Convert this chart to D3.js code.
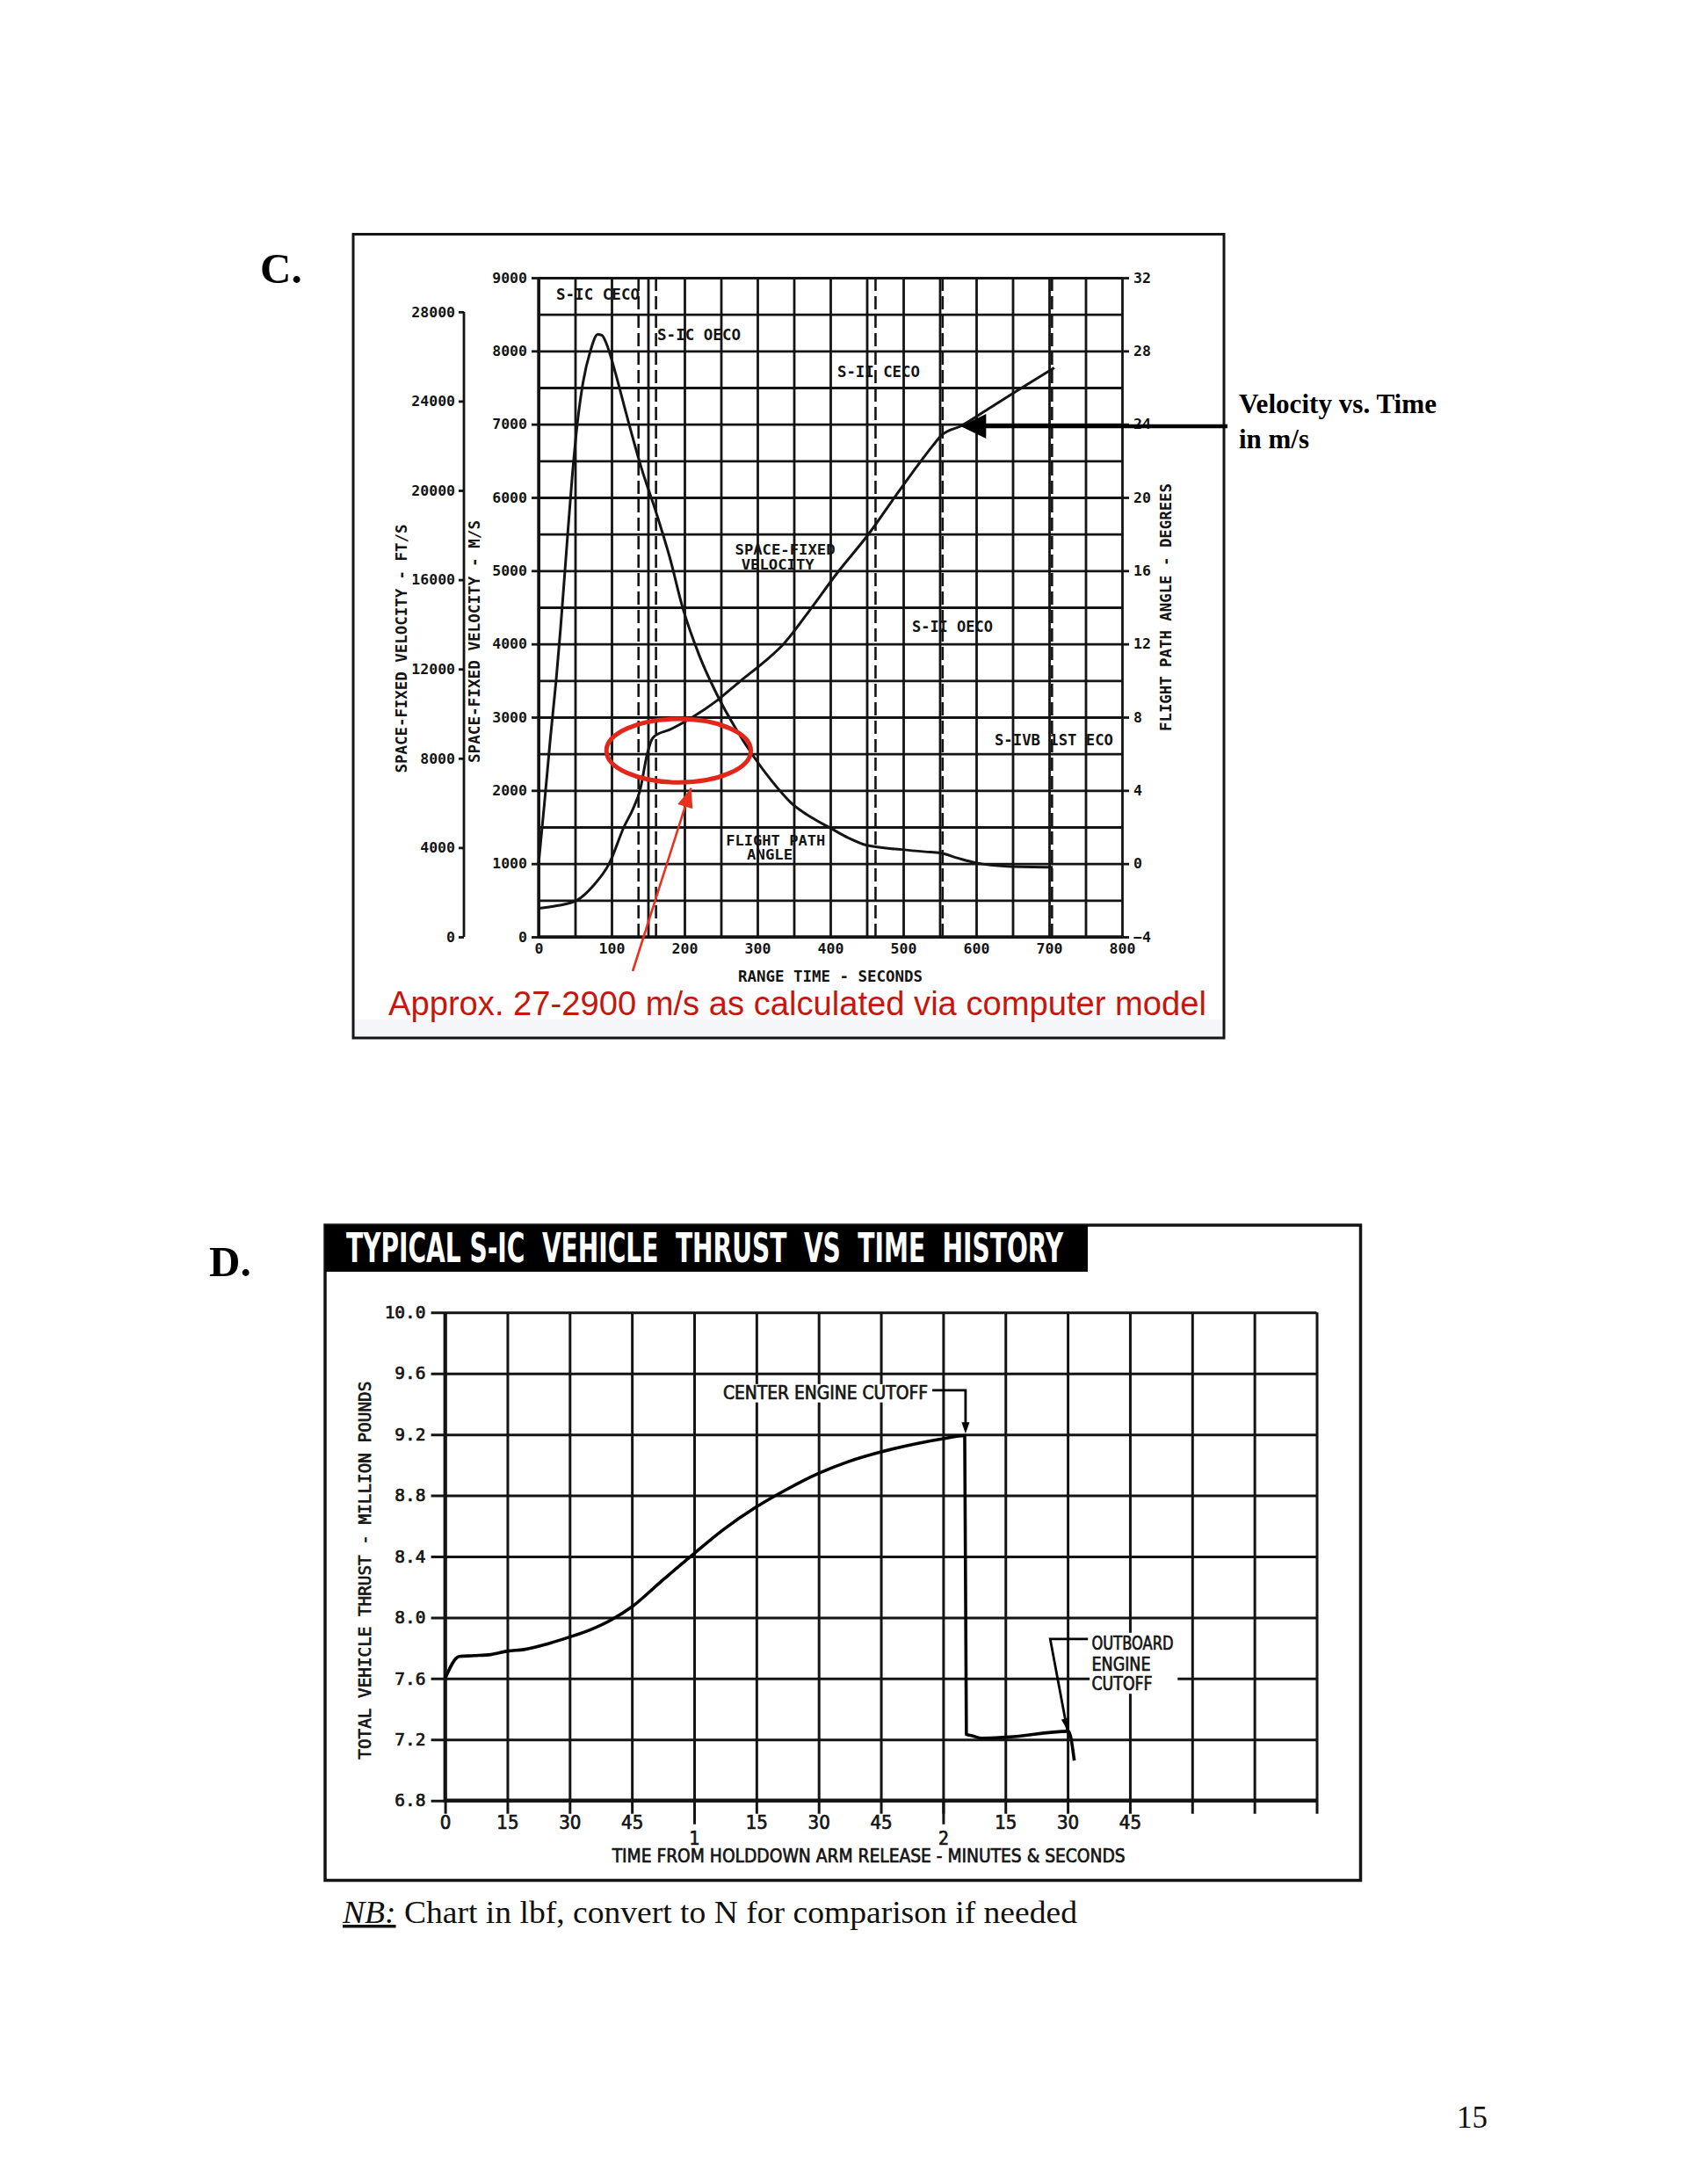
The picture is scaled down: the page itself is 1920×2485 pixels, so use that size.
<!DOCTYPE html>
<html><head><meta charset="utf-8">
<script src="https://cdn.jsdelivr.net/npm/d3@7"></script>
<style>body{margin:0;background:#fff}</style>
</head><body>
<script>
// ---------------- DATA ----------------
// Chart C : Saturn V ascent (range time, s)
const velocityT  = [0,25,52.6,75,96.8,117,130,139,149,155,159,180,211,245,277.5,310,336,374,408,454,488,524.5,540,552.6,579,620,663,707];
const velocityMs = [390,425,500,700,1000,1500,1760,2000,2500,2690,2740,2830,3000,3230,3500,3760,4000,4490,4950,5520,6000,6500,6700,6850,6975,7230,7500,7770];
const fpaT   = [0,8,16,24,30,38,46,53,61,71,81,87,93,105,120,141,161,180,197,220,245,270,294,320,346,375,402,425,450,498,530,551,575,599,643,705];
const fpaDeg = [0,3.3,6.8,10.0,12.8,17.0,21.1,24.0,26.3,28.0,28.9,28.85,28.4,26.85,24.6,21.6,19.2,16.7,14.05,11.4,9.2,7.4,5.9,4.5,3.33,2.5,1.9,1.4,1.0,0.77,0.65,0.58,0.3,0.05,-0.15,-0.2];
const eventTimes = [137,161,462,554,704];
const eventNames = ["S-IC CECO","S-IC OECO","S-II CECO","S-II OECO","S-IVB 1ST ECO"];
const cTimeTicks = [0,100,200,300,400,500,600,700,800];
const cMsTicks   = [0,1000,2000,3000,4000,5000,6000,7000,8000,9000];
const cFtTicks   = [0,4000,8000,12000,16000,20000,24000,28000];
const cDegTicks  = [-4,0,4,8,12,16,20,24,28,32];
// highlighted region (red ellipse) in data units: time range, velocity range
const ellipseT = [93,291];
const ellipseV = [2110,2975];

// Chart D : S-IC thrust history (s, million lbf)
const thrustT = [0,3.4,7,11,15,19,25,30,35,40,45,52,60,67,75,82,90,97,105,114.5,120,125.2,125.6,127,129.3,135,150.2,151.6];
const thrustM = [7.6,7.745,7.75,7.757,7.78,7.79,7.83,7.872,7.92,7.984,8.07,8.235,8.42,8.575,8.725,8.835,8.945,9.02,9.085,9.145,9.172,9.192,7.234,7.225,7.209,7.215,7.254,7.062];
const dTimeTicks  = [0,15,30,45,60,75,90,105,120,135,150,165,180,195,210];
const dTimeLabels = ["0","15","30","45","","15","30","45","","15","30","45","","",""];
const dMinuteTicks  = [60,120];
const dMinuteLabels = ["1","2"];
const dThrustTicks  = [6.8,7.2,7.6,8.0,8.4,8.8,9.2,9.6,10.0];

// ---------------- DRAWING ----------------
const mono = "'DejaVu Sans Mono', monospace";
const cond = "'Liberation Sans Narrow','DejaVu Sans Condensed','DejaVu Sans',sans-serif";
const serif = "'Liberation Serif','Times New Roman',serif";
const sans = "'Liberation Sans', Arial, sans-serif";
const INK = "#141414";

const svg = d3.select("body").append("svg").attr("width",1920).attr("height",2485).style("display","block");
svg.append("rect").attr("width",1920).attr("height",2485).attr("fill","#fff");

function fit(sel,w){ return sel.attr("textLength",w).attr("lengthAdjust","spacingAndGlyphs"); }
function arrowHead(g,tip,from,len,half,fill){
  const dx=tip[0]-from[0], dy=tip[1]-from[1], L=Math.hypot(dx,dy), ux=dx/L, uy=dy/L;
  const bx=tip[0]-ux*len, by=tip[1]-uy*len;
  g.append("path").attr("d",`M${tip[0]},${tip[1]}L${bx-uy*half},${by+ux*half}L${bx+uy*half},${by-ux*half}Z`).attr("fill",fill);
}

// ===== Chart C =====
const xC = d3.scaleLinear().domain([0,800]).range([613,1277]);
const yC = d3.scaleLinear().domain([0,9000]).range([1066,316]);
const yFt = d3.scaleLinear().domain([0,9000/0.3048]).range([1066,316]);
const yDeg = d3.scaleLinear().domain([-4,32]).range([1066,316]);

const gC = svg.append("g");
gC.append("rect").attr("x",402).attr("y",1160).attr("width",991).attr("height",21).attr("fill","#f4f6f9");
gC.append("rect").attr("x",402).attr("y",266.5).attr("width",991).attr("height",914.5).attr("fill","none").attr("stroke",INK).attr("stroke-width",3);

// grid
const gridT = d3.range(0,801,50), gridV = d3.range(0,9001,500);
gC.append("g").attr("transform",`translate(0,${yC(9000)})`)
  .call(d3.axisBottom(xC).tickValues(gridT).tickSize(yC(0)-yC(9000)).tickFormat(""))
  .call(g=>g.select(".domain").remove())
  .selectAll("line").attr("stroke",INK).attr("stroke-width",2.8);
gC.append("g").attr("transform",`translate(${xC(0)},0)`)
  .call(d3.axisLeft(yC).tickValues(gridV).tickSize(-(xC(800)-xC(0))).tickFormat(""))
  .call(g=>g.select(".domain").remove())
  .selectAll("line").attr("stroke",INK).attr("stroke-width",2.8);
gC.append("line").attr("x1",xC(0)).attr("x2",xC(0)).attr("y1",yC(0)).attr("y2",yC(9000)).attr("stroke",INK).attr("stroke-width",3.4);
gC.append("line").attr("x1",xC(0)).attr("x2",xC(800)).attr("y1",yC(0)).attr("y2",yC(0)).attr("stroke",INK).attr("stroke-width",3.4);

// event dashed lines
gC.append("g").selectAll("line").data(eventTimes).join("line")
  .attr("x1",d=>xC(d)).attr("x2",d=>xC(d)).attr("y1",yC(9000)).attr("y2",yC(0))
  .attr("stroke",INK).attr("stroke-width",2.6).attr("stroke-dasharray","15,6");

function styleAxis(g,size,weight,family,sw){
  g.attr("font-family",family).attr("font-size",size).attr("font-weight",weight);
  g.selectAll("text").attr("fill",INK).attr("stroke",INK).attr("stroke-width",sw||0);
  g.selectAll("line").attr("stroke",INK).attr("stroke-width",2.8);
}
// m/s axis
const aMs = gC.append("g").attr("transform",`translate(${xC(0)},0)`)
  .call(d3.axisLeft(yC).tickValues(cMsTicks).tickSize(8).tickPadding(5).tickFormat(d3.format("d")));
aMs.select(".domain").remove(); styleAxis(aMs,16.5,"bold",mono);
// ft/s axis
const aFt = gC.append("g").attr("transform",`translate(528,0)`)
  .call(d3.axisLeft(yFt).tickValues(cFtTicks).tickSize(6).tickPadding(4).tickFormat(d3.format("d")));
aFt.select(".domain").remove(); styleAxis(aFt,16.5,"bold",mono);
gC.append("line").attr("x1",528).attr("x2",528).attr("y1",yFt(0)).attr("y2",yFt(28000)).attr("stroke",INK).attr("stroke-width",2.8);
// degrees axis
const aDeg = gC.append("g").attr("transform",`translate(${xC(800)},0)`)
  .call(d3.axisRight(yDeg).tickValues(cDegTicks).tickSize(8).tickPadding(5).tickFormat(d3.format("d")));
aDeg.select(".domain").remove(); styleAxis(aDeg,16.5,"bold",mono);
// time axis
const aT = gC.append("g").attr("transform",`translate(0,${yC(0)})`)
  .call(d3.axisBottom(xC).tickValues(cTimeTicks).tickSize(0).tickPadding(7).tickFormat(d3.format("d")));
aT.select(".domain").remove(); styleAxis(aT,16.5,"bold",mono);

// axis titles
function cText(x,y,txt,w,rot){
  const t = gC.append("text").attr("transform",`translate(${x},${y})${rot?" rotate(-90)":""}`)
    .attr("text-anchor","middle").attr("dy","0.35em").attr("font-family",mono).attr("font-weight","bold")
    .attr("font-size",17).attr("fill",INK).text(txt);
  if(w) fit(t,w);
  return t;
}
cText(457,738,"SPACE-FIXED VELOCITY - FT/S",283,true);
cText(540,730,"SPACE-FIXED VELOCITY - M/S",276,true);
cText(1327,691,"FLIGHT PATH ANGLE - DEGREES",282,true);
cText((xC(0)+xC(800))/2,1111,"RANGE TIME - SECONDS",210,false);

// event labels (anchored in data units)
const evPos = [[24.1,8700,95],[162.7,8148,95],[409.6,7644,94],[512,4164,92],[625.3,2616,135]];
gC.append("g").selectAll("text").data(eventNames).join("text")
  .attr("x",(d,i)=>xC(evPos[i][0])).attr("y",(d,i)=>yC(evPos[i][1]))
  .attr("font-family",mono).attr("font-weight","bold").attr("font-size",17).attr("fill",INK)
  .attr("textLength",(d,i)=>evPos[i][2]).attr("lengthAdjust","spacingAndGlyphs").text(d=>d);
// curve labels
const curveLbl = [["SPACE-FIXED",338,5220,114],["VELOCITY",328,5020,83],["FLIGHT PATH",325,1250,113],["ANGLE",317,1060,52]];
gC.append("g").selectAll("text").data(curveLbl).join("text")
  .attr("x",d=>xC(d[1])).attr("y",d=>yC(d[2])).attr("text-anchor","middle")
  .attr("font-family",mono).attr("font-weight","bold").attr("font-size",16).attr("fill",INK)
  .attr("textLength",d=>d[3]).attr("lengthAdjust","spacingAndGlyphs").text(d=>d[0]);

// curves
const velLine = d3.line().x((d,i)=>xC(velocityT[i])).y(d=>yC(d)).curve(d3.curveMonotoneX);
gC.append("path").attr("d",velLine(velocityMs)).attr("fill","none").attr("stroke",INK).attr("stroke-width",3);
const fpaLine = d3.line().x((d,i)=>xC(fpaT[i])).y(d=>yDeg(d)).curve(d3.curveMonotoneX);
gC.append("path").attr("d",fpaLine(fpaDeg)).attr("fill","none").attr("stroke",INK).attr("stroke-width",3);

// red ellipse + arrow
gC.append("ellipse")
  .attr("cx",xC((ellipseT[0]+ellipseT[1])/2)).attr("cy",yC((ellipseV[0]+ellipseV[1])/2))
  .attr("rx",(xC(ellipseT[1])-xC(ellipseT[0]))/2).attr("ry",(yC(ellipseV[0])-yC(ellipseV[1]))/2)
  .attr("fill","none").attr("stroke","#e3261a").attr("stroke-width",5);
const rFrom=[xC(129),yC(-468)], rTip=[xC(209),yC(2032)];
gC.append("line").attr("x1",rFrom[0]).attr("y1",rFrom[1]).attr("x2",rTip[0]).attr("y2",rTip[1]).attr("stroke","#e8321e").attr("stroke-width",2.6);
arrowHead(gC,rTip,rFrom,22,9,"#e8321e");
fit(gC.append("text").attr("x",442).attr("y",1155).attr("font-family",sans).attr("font-size",38).attr("fill","#c6170e")
  .text("Approx. 27-2900 m/s as calculated via computer model"),931);

// black arrow to velocity curve
const bFrom=[1397,yC(6972)], bTip=[xC(578.7),yC(6972)];
svg.append("line").attr("x1",bFrom[0]).attr("y1",bFrom[1]).attr("x2",bTip[0]+20).attr("y2",bTip[1]).attr("stroke","#000").attr("stroke-width",4.6);
arrowHead(svg,bTip,bFrom,29,14,"#000");
fit(svg.append("text").attr("x",1410).attr("y",470).attr("font-family",serif).attr("font-weight","bold").attr("font-size",31).text("Velocity vs. Time"),225);
fit(svg.append("text").attr("x",1410).attr("y",510).attr("font-family",serif).attr("font-weight","bold").attr("font-size",31).text("in m/s"),80);

// section letters
svg.append("text").attr("x",296).attr("y",322).attr("font-family",serif).attr("font-weight","bold").attr("font-size",49).text("C.");
svg.append("text").attr("x",238).attr("y",1452).attr("font-family",serif).attr("font-weight","bold").attr("font-size",49).text("D.");

// ===== Chart D =====
const xD = d3.scaleLinear().domain([0,210]).range([506.6,1498.5]);
const yD = d3.scaleLinear().domain([6.8,10.0]).range([2048.7,1493.3]);
const gD = svg.append("g");
gD.append("rect").attr("x",370).attr("y",1394).attr("width",1178.5).attr("height",745.5).attr("fill","none").attr("stroke",INK).attr("stroke-width",3.5);
gD.append("rect").attr("x",370).attr("y",1394).attr("width",868).attr("height",53).attr("fill","#000");
fit(gD.append("text").attr("x",394).attr("y",1436).attr("font-family",cond).attr("font-weight","bold").attr("font-size",46).attr("fill","#fff")
  .text("TYPICAL S-IC  VEHICLE  THRUST  VS  TIME  HISTORY").style("white-space","pre"),816);

// grid
gD.append("g").attr("transform",`translate(0,${yD(10)})`)
  .call(d3.axisBottom(xD).tickValues(dTimeTicks).tickSize(yD(6.8)-yD(10)+15).tickFormat(""))
  .call(g=>g.select(".domain").remove())
  .selectAll("line").attr("stroke",INK).attr("stroke-width",3);
gD.append("g").attr("transform",`translate(0,${yD(6.8)})`)
  .call(d3.axisBottom(xD).tickValues(dMinuteTicks).tickSize(27).tickFormat(""))
  .call(g=>g.select(".domain").remove())
  .selectAll("line").attr("stroke",INK).attr("stroke-width",3);
gD.append("g").attr("transform",`translate(${xD(210)},0)`)
  .call(d3.axisLeft(yD).tickValues(dThrustTicks).tickSize(xD(210)-xD(0)+16).tickFormat(""))
  .call(g=>g.select(".domain").remove())
  .selectAll("line").attr("stroke",INK).attr("stroke-width",3);
gD.append("line").attr("x1",xD(0)).attr("x2",xD(0)).attr("y1",yD(10)).attr("y2",yD(6.8)+2).attr("stroke",INK).attr("stroke-width",4);
gD.append("line").attr("x1",xD(0)).attr("x2",xD(210)).attr("y1",yD(6.8)).attr("y2",yD(6.8)).attr("stroke",INK).attr("stroke-width",4.2);

// tick labels
const aDy = gD.append("g").attr("transform",`translate(${xD(0)-16},0)`)
  .call(d3.axisLeft(yD).tickValues(dThrustTicks).tickSize(0).tickPadding(6).tickFormat(d3.format(".1f")));
aDy.select(".domain").remove(); styleAxis(aDy,19.5,"normal",mono,0.7);
const aDx = gD.append("g").attr("transform",`translate(0,${yD(6.8)})`)
  .call(d3.axisBottom(xD).tickValues(dTimeTicks).tickSize(0).tickPadding(17).tickFormat((d,i)=>dTimeLabels[i]));
aDx.select(".domain").remove(); styleAxis(aDx,22,"normal",cond,0.7);
const aDm = gD.append("g").attr("transform",`translate(0,${yD(6.8)})`)
  .call(d3.axisBottom(xD).tickValues(dMinuteTicks).tickSize(0).tickPadding(35).tickFormat((d,i)=>dMinuteLabels[i]));
aDm.select(".domain").remove(); styleAxis(aDm,21,"normal",cond,0.7);

fit(gD.append("text").attr("x",988.7).attr("y",2119).attr("text-anchor","middle").attr("font-family",cond).attr("font-size",22).attr("fill",INK)
  .attr("stroke",INK).attr("stroke-width",0.7).text("TIME FROM HOLDDOWN ARM RELEASE - MINUTES & SECONDS"),584);
fit(gD.append("text").attr("transform","translate(415.5,1786.7) rotate(-90)").attr("dy","0.35em").attr("text-anchor","middle")
  .attr("font-family",mono).attr("font-size",19.5).attr("fill",INK).attr("stroke",INK).attr("stroke-width",0.7)
  .text("TOTAL VEHICLE THRUST - MILLION POUNDS"),430);

// annotation backgrounds + text
gD.append("rect").attr("x",xD(66.5)).attr("y",yD(9.53)).attr("width",xD(117)-xD(66.5)).attr("height",yD(9.41)-yD(9.53)).attr("fill","#fff");
fit(gD.append("text").attr("x",xD(116.3)).attr("y",yD(9.473)).attr("dy","0.35em").attr("text-anchor","end")
  .attr("font-family",cond).attr("font-size",21).attr("fill",INK).attr("stroke",INK).attr("stroke-width",0.7).text("CENTER ENGINE CUTOFF"),233);
gD.append("rect").attr("x",xD(155.3)).attr("y",yD(7.9)).attr("width",xD(176.5)-xD(155.3)).attr("height",yD(7.5)-yD(7.9)).attr("fill","#fff");
const obLines = [["OUTBOARD",7.83,93],["ENGINE",7.696,67],["CUTOFF",7.565,69]];
gD.append("g").selectAll("text").data(obLines).join("text")
  .attr("x",xD(155.8)).attr("y",d=>yD(d[1])).attr("dy","0.35em")
  .attr("font-family",cond).attr("font-size",21).attr("fill",INK).attr("stroke",INK).attr("stroke-width",0.7)
  .attr("textLength",d=>d[2]).attr("lengthAdjust","spacingAndGlyphs").text(d=>d[0]);

// thrust curve
const thrustLine = d3.line().x((d,i)=>xD(thrustT[i])).y(d=>yD(d)).curve(d3.curveMonotoneX);
gD.append("path").attr("d",thrustLine(thrustM)).attr("fill","none").attr("stroke","#000").attr("stroke-width",3.6).attr("stroke-linejoin","round");

// leaders
gD.append("path").attr("d",`M${xD(117.4)},${yD(9.49)}H${xD(125.4)}V${yD(9.25)}`).attr("fill","none").attr("stroke","#000").attr("stroke-width",2.8);
arrowHead(gD,[xD(125.4),yD(9.205)],[xD(125.4),yD(9.49)],13,4.5,"#000");
const obTip=[xD(149.9),yD(7.263)], obCorner=[xD(145.8),yD(7.859)];
gD.append("path").attr("d",`M${xD(154.9)},${yD(7.859)}H${obCorner[0]}L${obTip[0]},${obTip[1]}`).attr("fill","none").attr("stroke","#000").attr("stroke-width",2.8);
arrowHead(gD,obTip,obCorner,13,4.5,"#000");

// NB line and page number
const nb = svg.append("text").attr("x",390).attr("y",2188).attr("font-family",serif).attr("font-size",35).attr("fill","#111");
nb.append("tspan").attr("font-style","italic").attr("text-decoration","underline").text("NB:");
nb.append("tspan").text(" Chart in lbf, convert to N for comparison if needed");
fit(nb,836);
svg.append("text").attr("x",1658).attr("y",2421).attr("font-family",serif).attr("font-size",35).attr("fill","#111").text("15");
</script>
</body></html>
